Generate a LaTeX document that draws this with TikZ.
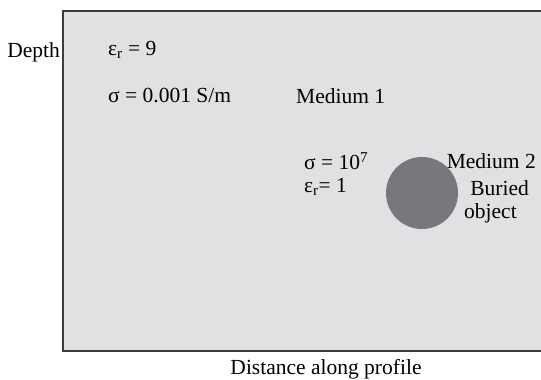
\documentclass[tikz,border=0pt]{standalone}
\usepackage{fontspec}
\setmainfont{Liberation Serif}
\usetikzlibrary{positioning}
\definecolor{soilc}{RGB}{224,225,227}
\definecolor{objc}{RGB}{119,120,123}
\definecolor{edgec}{RGB}{60,60,60}

\begin{document}
\begin{tikzpicture}[
  x=1pt, y=-1pt,
  font=\fontsize{21.5}{25}\selectfont,
  lbl/.style={inner sep=0pt, anchor=west},
  lblr/.style={inner sep=0pt, anchor=east},
]
\useasboundingbox (0,0) rectangle (541,380);

% ---------------- the ground section ----------------
\fill[soilc] (63,11) rectangle (541,351);
\draw[edgec, line width=1.4pt] (541,11) -- (63,11) -- (63,351) -- (541,351);

% buried object
\node[circle, fill=objc, minimum size=72pt, inner sep=0pt] (obj) at (422,193) {};

% ---------------- labels ----------------
\node[lblr] (depth) at (60,52) {Depth};
\node[lbl] (eps1) at (108,50) {ε\textsubscript{r} = 9};
\node[lbl] (sig1) at (108,96) {σ = 0.001 S/m};
\node[lbl] (med1) at (296,96) {Medium 1};

\node[lbl] (sig2) at (304,161) {σ = 10\textsuperscript{7}};
\node[lbl] (eps2) at (304,187) {ε\textsubscript{r}= 1};

\node[lblr] (med2) at (536,161) {Medium 2};
\node[lblr] (bur)  at (529,188) {Buried};
\node[lbl]  (objt) at (464,213) {object};

\node[inner sep=0pt] (dist) at (326,369) {Distance along profile};
\end{tikzpicture}
\end{document}
